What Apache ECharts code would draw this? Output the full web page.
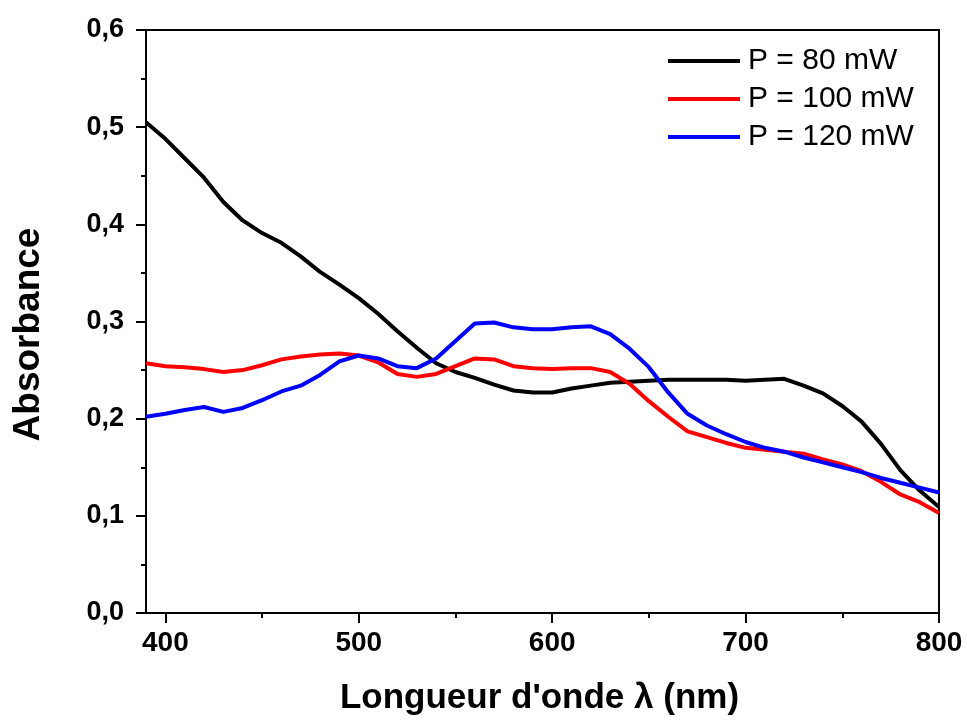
<!DOCTYPE html>
<html>
<head>
<meta charset="utf-8">
<script src="https://cdn.jsdelivr.net/npm/echarts@6/dist/echarts.min.js"></script>
<style>
  html, body { margin: 0; padding: 0; background: #fff; }
  #chart { width: 967px; height: 720px; }
</style>
</head>
<body>
<div id="chart"></div>
<script>
// wavelength (nm), 10 nm steps
var wavelengths = [390, 400, 410, 420, 430, 440, 450, 460, 470, 480, 490, 500, 510, 520, 530, 540, 550, 560, 570, 580, 590,
  600, 610, 620, 630, 640, 650, 660, 670, 680, 690, 700, 710, 720, 730, 740, 750, 760, 770, 780, 790, 800];

var abs80 = [0.505, 0.488, 0.468, 0.448, 0.423, 0.404, 0.391, 0.381, 0.367, 0.351, 0.338, 0.324, 0.308, 0.290, 0.273,
  0.257, 0.248, 0.242, 0.235, 0.229, 0.227, 0.227, 0.231, 0.234, 0.237, 0.238, 0.239, 0.240, 0.240, 0.240, 0.240,
  0.239, 0.240, 0.241, 0.234, 0.226, 0.213, 0.197, 0.174, 0.147, 0.126, 0.109];

var abs100 = [0.257, 0.254, 0.253, 0.251, 0.248, 0.250, 0.255, 0.261, 0.264, 0.266, 0.267, 0.265, 0.258, 0.246, 0.243,
  0.246, 0.254, 0.262, 0.261, 0.254, 0.252, 0.251, 0.252, 0.252, 0.248, 0.236, 0.218, 0.202, 0.187, 0.181, 0.175,
  0.170, 0.168, 0.166, 0.164, 0.158, 0.153, 0.146, 0.135, 0.122, 0.114, 0.103];

var abs120 = [0.202, 0.205, 0.209, 0.212, 0.207, 0.211, 0.219, 0.228, 0.234, 0.245, 0.259, 0.265, 0.262, 0.254, 0.252,
  0.262, 0.280, 0.298, 0.299, 0.294, 0.292, 0.292, 0.294, 0.295, 0.287, 0.272, 0.253, 0.227, 0.205, 0.193, 0.184,
  0.176, 0.170, 0.166, 0.160, 0.155, 0.150, 0.145, 0.139, 0.134, 0.129, 0.124];

var seriesNames = ['P = 80 mW', 'P = 100 mW', 'P = 120 mW'];
var seriesColors = ['#000000', '#ff0000', '#0000ff'];

var xMajor = [400, 500, 600, 700, 800];
var xMinor = [450, 550, 650, 750];

var font = 'Arial, "Liberation Sans", sans-serif';

function pairs(ys) {
  return wavelengths.map(function (x, i) { return [x, ys[i]]; });
}

var myChart = echarts.init(document.getElementById('chart'));

var option = {
  animation: false,
  backgroundColor: '#fff',
  grid: {
    left: 146, top: 30, right: 28, bottom: 107,
    outerBoundsMode: 'none',
    show: true, borderColor: '#000', borderWidth: 2
  },
  legend: {
    orient: 'vertical',
    left: 668, top: 46,
    padding: 0,
    itemGap: 8,
    itemWidth: 72, itemHeight: 4,
    icon: 'rect',
    data: seriesNames,
    textStyle: { fontFamily: font, fontSize: 30, color: '#000', padding: [0, 0, 0, 3] }
  },
  xAxis: [{
    type: 'value',
    min: 390, max: 800,
    name: "Longueur d'onde \u03bb (nm)",
    nameLocation: 'middle',
    nameGap: 68,
    nameTextStyle: { fontFamily: font, fontSize: 35, fontWeight: 'bold', color: '#000', padding: [0, 6, 0, 0] },
    axisLine: { lineStyle: { color: '#000', width: 2 } },
    axisTick: { show: true, length: 10, customValues: xMajor, lineStyle: { color: '#000', width: 2 } },
    axisLabel: { customValues: xMajor, margin: 16, fontFamily: font, fontSize: 28, fontWeight: 'bold', color: '#000' },
    splitLine: { show: false }
  }, {
    type: 'value',
    position: 'bottom',
    min: 390, max: 800,
    axisLine: { show: false },
    axisTick: { show: true, length: 5, customValues: xMinor, lineStyle: { color: '#000', width: 2 } },
    axisLabel: { show: false },
    splitLine: { show: false }
  }],
  yAxis: {
    type: 'value',
    min: 0, max: 0.6, interval: 0.1,
    name: 'Absorbance',
    nameLocation: 'middle',
    nameGap: 99,
    nameTextStyle: { fontFamily: font, fontSize: 37, fontWeight: 'bold', color: '#000', padding: [0, 26, 0, 0] },
    axisLine: { show: true, lineStyle: { color: '#000', width: 2 } },
    axisTick: { show: true, length: 10, lineStyle: { color: '#000', width: 2 } },
    minorTick: { show: true, splitNumber: 2, length: 5, lineStyle: { color: '#000', width: 2 } },
    axisLabel: {
      margin: 22, fontFamily: font, fontSize: 27, fontWeight: 'bold', color: '#000',
      formatter: function (v) { return v.toFixed(1).replace('.', ','); }
    },
    splitLine: { show: false }
  },
  series: [abs80, abs100, abs120].map(function (ys, i) {
    return {
      name: seriesNames[i],
      type: 'line',
      xAxisIndex: 0,
      data: pairs(ys),
      showSymbol: false,
      symbol: 'none',
      color: seriesColors[i],
      lineStyle: { color: seriesColors[i], width: 4 }
    };
  })
};

myChart.setOption(option);
</script>
</body>
</html>
